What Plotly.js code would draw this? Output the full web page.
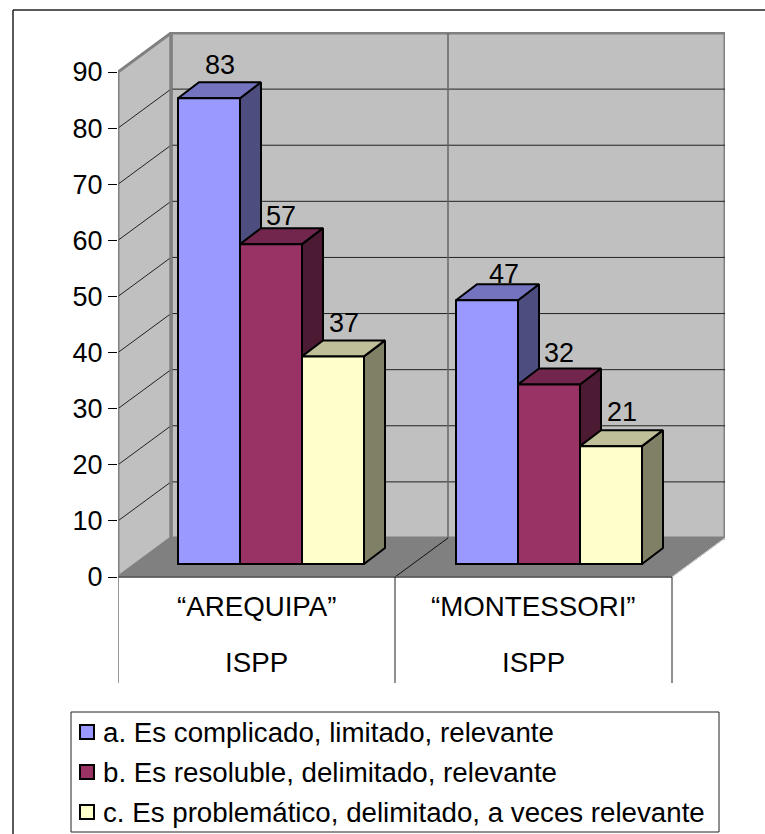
<!DOCTYPE html>
<html>
<head>
<meta charset="utf-8">
<script src="https://cdn.plot.ly/plotly-3.0.1.min.js"></script>
<style>html,body{margin:0;padding:0;background:#fff}</style>
</head>
<body>
<div id="chart"></div>
<script>
const categories = ["“AREQUIPA”", "“MONTESSORI”"];
const categoryNote = ["ISPP", "ISPP"];
const seriesNames = [
  "a. Es complicado, limitado, relevante",
  "b. Es resoluble, delimitado, relevante",
  "c. Es problemático, delimitado, a veces relevante"
];
const seriesA = [83, 47];
const seriesB = [57, 32];
const seriesC = [37, 21];
const yTicks = [0, 10, 20, 30, 40, 50, 60, 70, 80, 90];

const allSeries = [seriesA, seriesB, seriesC];
const frontColors = ["#9999FF", "#993366", "#FFFFCC"];
const sideColors = ["#4D4D80", "#4D1A33", "#808066"];
const topColors = ["#7373BF", "#73264D", "#BFBF99"];

// Pixel geometry of the oblique projection
const W = 765, H = 834;
const L = 118, T = 32, R = 725, B = 683;
const y0px = 577, pxPerUnit = 505 / 90, pxPerCat = 277;
const wallDX = 53 / pxPerCat, wallDY = 39 / pxPerUnit;
const barDX = 21 / pxPerCat, barDY = 16 / pxPerUnit;
const barW = 62 / pxPerCat, barBase = 13 / pxPerUnit;
const groupLeft = [60 / pxPerCat, 338 / pxPerCat];
const xRange = [0, (R - L) / pxPerCat];
const yRange = [(y0px - B) / pxPerUnit, (y0px - T) / pxPerUnit];
const topV = 90;

const poly = (xs, ys, fill, lineColor, lineWidth) => ({
  type: "scatter", mode: "lines", x: xs.concat(xs[0]), y: ys.concat(ys[0]),
  fill: "toself", fillcolor: fill, line: {color: lineColor, width: lineWidth},
  hoverinfo: "skip", showlegend: false, cliponaxis: false
});
const seg = (xs, ys, color, width) => ({
  type: "scatter", mode: "lines", x: xs, y: ys,
  line: {color: color, width: width}, hoverinfo: "skip", showlegend: false, cliponaxis: false
});

const traces = [];
const WALL = "#C0C0C0", EDGE = "#808080";
// back wall, left wall, floor
traces.push(poly([wallDX, xRange[1], xRange[1], wallDX], [wallDY, wallDY, topV + wallDY, topV + wallDY], WALL, EDGE, 3));
traces.push(poly([0, wallDX, wallDX, 0], [0, wallDY, topV + wallDY, topV], WALL, EDGE, 3));
traces.push(poly([0, 2, 2 + wallDX, wallDX], [0, 0, wallDY, wallDY], EDGE, EDGE, 1));
// gridlines
yTicks.slice(1, -1).forEach(v => {
  traces.push(seg([0, wallDX, xRange[1]], [v, v + wallDY, v + wallDY], "#222", 1));
});
// back wall category divider and floor divider
traces.push(seg([1 + wallDX, 1 + wallDX], [wallDY, topV + wallDY], "#666", 1.5));
traces.push(seg([1, 1 + wallDX], [0, wallDY], "#111", 1));
traces.push(seg([2, 2 + wallDX], [0, wallDY], "#ddd", 1));
// redraw the wall edges that gridlines touch
traces.push(seg([wallDX, wallDX], [wallDY, topV + wallDY], EDGE, 3));
traces.push(seg([0, 0], [0, topV], EDGE, 2));
// front line of the floor and category separators
traces.push(seg([0, 2], [0, 0], "#555", 1.5));
traces.push(seg([0, 0], [0, yRange[0]], "#777", 1.5));
traces.push(seg([1, 1], [0, yRange[0]], "#222", 1));
traces.push(seg([2, 2], [0, yRange[0]], "#222", 1));

// sides and tops of the boxes
categories.forEach((c, g) => {
  allSeries.forEach((vals, i) => {
    const x0 = groupLeft[g] + i * barW, x1 = x0 + barW, t = vals[g] + barBase;
    traces.push(poly([x1, x1 + barDX, x1 + barDX, x1], [barBase, barBase + barDY, t + barDY, t], sideColors[i], "#000", 2));
    traces.push(poly([x0, x0 + barDX, x1 + barDX, x1], [t, t + barDY, t + barDY, t], topColors[i], "#000", 2));
  });
});

// front faces: real bars on an overlaid subplot so they sit above the box sides
allSeries.forEach((vals, i) => {
  traces.push({
    type: "bar", name: seriesNames[i], xaxis: "x2", yaxis: "y2",
    x: groupLeft.map(g => g + i * barW + barW / 2), y: vals, base: barBase, width: barW,
    marker: {color: frontColors[i], line: {color: "#000", width: 2}},
    hoverinfo: "skip", showlegend: false
  });
});

// paper helpers
const px = v => (v - L) / (R - L);
const py = v => 1 - (v - T) / (B - T);
const FONT = "Liberation Sans, Arial, sans-serif";
const FS = 27.7, FSD = 27;

const annotations = [];
// data labels
const labelDX = [[0, -1, 0], [6, -1, 0]];
const labelGap = [[6, 1, 6], [-1, 4, 7]];
categories.forEach((c, g) => {
  allSeries.forEach((vals, i) => {
    annotations.push({
      x: groupLeft[g] + i * barW + barW / 2 + barDX / 2, y: vals[g] + barBase + barDY,
      xref: "x", yref: "y", text: String(vals[g]), showarrow: false,
      xanchor: "center", yanchor: "bottom", yshift: labelGap[g][i] - 6, xshift: labelDX[g][i],
      font: {family: FONT, size: FSD, color: "#000"}
    });
  });
});
// category labels
categories.forEach((c, g) => {
  annotations.push({x: g + 0.5, y: py(606), xref: "x", yref: "paper", text: c, showarrow: false,
    xanchor: "center", yanchor: "middle", font: {family: FONT, size: FS, color: "#000"}});
  annotations.push({x: g + 0.5, y: py(662), xref: "x", yref: "paper", text: categoryNote[g], showarrow: false,
    xanchor: "center", yanchor: "middle", font: {family: FONT, size: FS, color: "#000"}});
});
// legend
const legendRows = [732, 772, 812];
const shapes = [
  {type: "line", xref: "paper", yref: "paper", x0: px(13), x1: px(13), y0: py(10), y1: py(H), line: {color: "#222", width: 1.5}},
  {type: "line", xref: "paper", yref: "paper", x0: px(13), x1: px(W), y0: py(10), y1: py(10), line: {color: "#222", width: 1.5}},
  {type: "rect", xref: "paper", yref: "paper", x0: px(71), x1: px(719), y0: py(712), y1: py(832), fillcolor: "#fff", line: {color: "#222", width: 1}}
];
seriesNames.forEach((n, i) => {
  const yc = legendRows[i];
  shapes.push({type: "rect", xref: "paper", yref: "paper", x0: px(80), x1: px(94), y0: py(yc - 7), y1: py(yc + 7),
    fillcolor: frontColors[i], line: {color: "#000", width: 2}});
  annotations.push({x: px(103), y: py(yc), xref: "paper", yref: "paper", text: n, showarrow: false,
    xanchor: "left", yanchor: "middle", xshift: -2, font: {family: FONT, size: FS, color: "#000"}});
});

const layout = {
  width: W, height: H, autosize: false, showlegend: false,
  paper_bgcolor: "#fff", plot_bgcolor: "rgba(0,0,0,0)",
  margin: {l: L, t: T, r: W - R, b: H - B, pad: 0},
  barmode: "overlay",
  xaxis: {range: xRange, visible: false, fixedrange: true},
  yaxis: {range: yRange, tickmode: "array", tickvals: yTicks, ticktext: yTicks.map(String),
    ticks: "outside", ticklen: 9, tickwidth: 1, tickcolor: "#000", showgrid: false, zeroline: false,
    showline: false, fixedrange: true, ticklabelstandoff: 0, tickfont: {family: FONT, size: FSD, color: "#000"}},
  xaxis2: {range: xRange, visible: false, overlaying: "x", fixedrange: true},
  yaxis2: {range: yRange, visible: false, overlaying: "y", fixedrange: true},
  shapes: shapes, annotations: annotations
};
Plotly.newPlot("chart", traces, layout, {displayModeBar: false, staticPlot: true});
</script>
</body>
</html>
